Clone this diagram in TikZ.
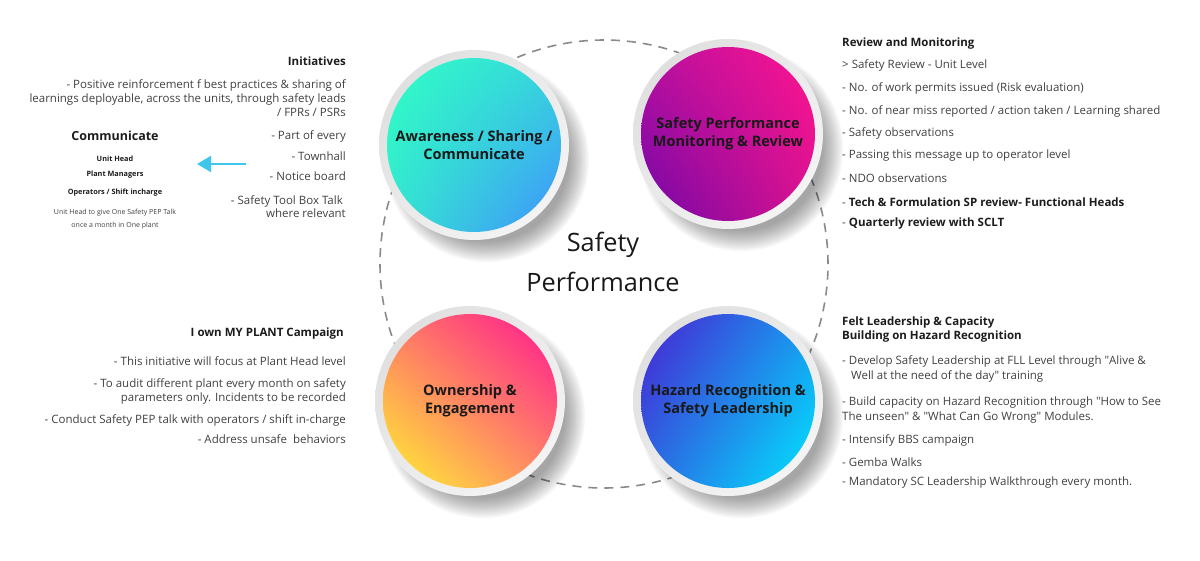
\documentclass[tikz,border=0pt]{standalone}
\usepackage{fontspec}
\setmainfont{Open Sans}
\usetikzlibrary{arrows.meta,shadings}

\definecolor{txt}{HTML}{404040}
\definecolor{hdr}{HTML}{1C1C1C}
\definecolor{dashgray}{HTML}{8A8A8A}
\definecolor{arrcol}{HTML}{3FC6EC}
% awareness
\definecolor{awA}{HTML}{30FFC4}
\definecolor{awB}{HTML}{36D6DC}
\definecolor{awC}{HTML}{34E6D0}
\definecolor{awD}{HTML}{4090FF}
% monitoring
\definecolor{moA}{HTML}{B8109E}
\definecolor{moB}{HTML}{FF1490}
\definecolor{moC}{HTML}{7006A8}
\definecolor{moD}{HTML}{D8128F}
% ownership
\definecolor{owA}{HTML}{FF7A66}
\definecolor{owB}{HTML}{FF1492}
\definecolor{owC}{HTML}{FFF530}
\definecolor{owD}{HTML}{FF8A66}
% hazard
\definecolor{haA}{HTML}{4A20D2}
\definecolor{haB}{HTML}{1898EE}
\definecolor{haC}{HTML}{2A6AE2}
\definecolor{haD}{HTML}{00E8FF}

\tikzset{
  item/.style={text=txt, inner sep=0pt, font=\fontsize{11.5}{14.5}\selectfont},
  head/.style={text=hdr, inner sep=0pt, font=\bfseries\fontsize{11.5}{14}\selectfont},
  tiny/.style={text=txt, inner sep=0pt, font=\fontsize{7}{13}\selectfont},
  tinyb/.style={text=hdr, inner sep=0pt, font=\bfseries\fontsize{7.3}{13}\selectfont},
  ringc/.style={circle, minimum size=190pt, inner sep=0pt,
    upper left=black!14, upper right=black!8, lower left=black!8, lower right=black!3},
  disk/.style={circle, minimum size=174pt, inner sep=0pt, align=center, text=black!90,
    font=\bfseries\fontsize{14.5}{18}\selectfont},
  orbit/.style={circle, draw=dashgray, line width=1.6pt, dash pattern=on 9pt off 7pt,
    minimum size=448pt, inner sep=0pt}
}
\newcommand{\dq}{\textquotedbl}

\begin{document}
\begin{tikzpicture}[x=1pt, y=-1pt]
\useasboundingbox (0,0) rectangle (1200,560);

% dashed ring and centre title
\node[orbit] (ring) at (604,264) {};
\node[align=center, text=black!90, font=\fontsize{25.3}{40}\selectfont] (sp) at (603,262) {Safety\\Performance};

% circle centres
\coordinate (cA) at (474,145);
\coordinate (cB) at (728,134);
\coordinate (cC) at (470,401);
\coordinate (cD) at (728,401);

% soft shadows
\foreach \c in {cA,cB,cC,cD}
  \foreach \k in {0,...,11}
    \fill[black, opacity=0.035] ([shift={(13,15)}]\c) circle ({(102-1.8*\k)*1pt});

\foreach \c in {cA,cB,cC,cD}
  \node[ringc] at (\c) {};

\node[disk, upper left=awA, upper right=awB, lower left=awC, lower right=awD]
  (aw) at (cA) {Awareness / Sharing /\\Communicate};
\node[disk, upper left=moA, upper right=moB, lower left=moC, lower right=moD]
  (mo) at (cB) {Safety Performance\\Monitoring \& Review};
\node[disk, upper left=owA, upper right=owB, lower left=owC, lower right=owD]
  (ow) at (cC) {Ownership \&\\Engagement};
\node[disk, upper left=haA, upper right=haB, lower left=haC, lower right=haD]
  (ha) at (cD) {Hazard Recognition \&\\Safety Leadership};

% initiatives
\node[head, anchor=east] (ini) at (346,61) {Initiatives};
\node[item, anchor=east, align=right, font=\fontsize{11.5}{14}\selectfont] (ini1) at (346,98)
  {- Positive reinforcement f best practices \& sharing of\\learnings deployable, across the units, through safety leads\\/ FPRs / PSRs};
\node[item, anchor=east] (ini2) at (346,136) {- Part of every};
\node[item, anchor=east] (ini3) at (346,156) {- Townhall};
\node[item, anchor=east] (ini4) at (346,176) {- Notice board};
\node[item, anchor=east, align=right, font=\fontsize{11.5}{13.5}\selectfont] (ini5) at (346,206.5)
  {- Safety Tool Box Talk\hspace*{3pt}\\where relevant};

% communicate
\node[head, font=\bfseries\fontsize{12.5}{15}\selectfont] (com) at (115,136) {Communicate};
\node[tinyb] (com1) at (115,159) {Unit Head};
\node[tinyb] (com2) at (115,175) {Plant Managers};
\node[tinyb] (com3) at (115,193) {Operators / Shift incharge};
\node[tiny, align=center] (com4) at (115,219.5) {Unit Head to give One Safety PEP Talk\\once a month in One plant};
\coordinate (arrS) at (246,164);
\coordinate (arrE) at (197,164);
\draw[-{Triangle[length=14pt,width=16pt]}, line width=2pt, arrcol] (arrS) -- (arrE);

% review and monitoring
\node[head, anchor=west] (rev) at (842,44) {Review and Monitoring};
\node[item, anchor=west] (rev1) at (842,65) {> Safety Review - Unit Level};
\node[item, anchor=west] (rev2) at (842,88) {- No. of work permits issued (Risk evaluation)};
\node[item, anchor=west] (rev3) at (842,111) {- No. of near miss reported / action taken / Learning shared};
\node[item, anchor=west] (rev4) at (842,133) {- Safety observations};
\node[item, anchor=west] (rev5) at (842,156) {- Passing this message up to operator level};
\node[item, anchor=west] (rev6) at (842,178) {- NDO observations};
\node[item, anchor=west] (rev7) at (842,202) {- \textbf{\color{hdr}Tech \& Formulation SP review- Functional Heads}};
\node[item, anchor=west] (rev8) at (842,224) {- \textbf{\color{hdr}Quarterly review with SCLT}};

% ownership campaign
\node[head, anchor=east] (own) at (344,334) {I own MY PLANT Campaign};
\node[item, anchor=east] (own1) at (346,361) {- This initiative will focus at Plant Head level};
\node[item, anchor=east, align=right, font=\fontsize{11.5}{13.5}\selectfont] (own2) at (346,391.5)
  {- To audit different plant every month on safety\\parameters only. Incidents to be recorded};
\node[item, anchor=east] (own3) at (346,420) {- Conduct Safety PEP talk with operators / shift in-charge};
\node[item, anchor=east] (own4) at (346,439) {- Address unsafe \ behaviors};

% felt leadership
\node[head, anchor=west, align=left] (felt) at (842,330) {Felt Leadership \& Capacity\\Building on Hazard Recognition};
\node[item, anchor=west, align=left, font=\fontsize{11.5}{15}\selectfont] (felt1) at (842,368.5)
  {- Develop Safety Leadership at FLL Level through \dq Alive \&\\\hspace*{9pt}Well at the need of the day\dq{} training};
\node[item, anchor=west, align=left, font=\fontsize{11.5}{15}\selectfont] (felt2) at (842,410.5)
  {- Build capacity on Hazard Recognition through \dq How to See\\The unseen\dq{} \& \dq What Can Go Wrong\dq{} Modules.};
\node[item, anchor=west] (felt3) at (842,440) {- Intensify BBS campaign};
\node[item, anchor=west] (felt4) at (842,462) {- Gemba Walks};
\node[item, anchor=west] (felt5) at (842,483) {- Mandatory SC Leadership Walkthrough every month.};
\end{tikzpicture}
\end{document}
